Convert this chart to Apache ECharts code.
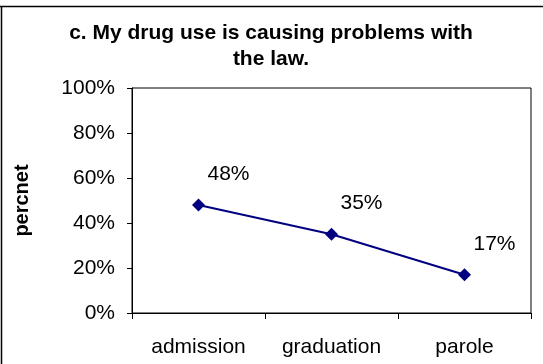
<!DOCTYPE html>
<html><head><meta charset="utf-8">
<script src="https://cdn.jsdelivr.net/npm/echarts@6/dist/echarts.min.js"></script>
<style>html,body{margin:0;padding:0;background:#fff}#c{width:543px;height:364px}</style>
</head><body><div id="c"></div>
<script>
const categories = ['admission', 'graduation', 'parole'];
const values = [48, 35, 17];
const yTicks = [0, 20, 40, 60, 80, 100];

const chart = echarts.init(document.getElementById('c'));
const F = 'Liberation Sans, Arial, sans-serif';
chart.setOption({
  animation: false,
  backgroundColor: '#fff',
  title: {
    text: 'c. My drug use is causing problems with\nthe law.',
    left: 266, top: 15, textAlign: 'center',
    textStyle: { fontFamily: F, fontSize: 21, fontWeight: 'bold', color: '#000', lineHeight: 26 }
  },
  grid: { left: 132, right: 12, top: 88, bottom: 51, show: true, borderColor: '#000', borderWidth: 1, backgroundColor: 'transparent' },
  xAxis: {
    type: 'category', data: categories, boundaryGap: true,
    axisLine: { lineStyle: { color: '#000', width: 1 } },
    axisTick: { show: true, length: 6, lineStyle: { color: '#000' } },
    axisLabel: { fontFamily: F, fontSize: 21, color: '#000', margin: 24 }
  },
  yAxis: {
    type: 'value', min: 0, max: 100, interval: 20,
    name: 'percnet', nameLocation: 'middle', nameGap: 100, nameRotate: 90,
    nameTextStyle: { fontFamily: F, fontSize: 20, fontWeight: 'bold', color: '#000' },
    axisLine: { show: true, lineStyle: { color: '#000' } },
    axisTick: { show: true, length: 5, lineStyle: { color: '#000' } },
    splitLine: { show: false },
    axisLabel: { fontFamily: F, fontSize: 21, color: '#000', margin: 17, formatter: v => yTicks.includes(v) ? v + '%' : '' }
  },
  series: [{
    type: 'line', data: values,
    symbol: 'diamond', symbolSize: 13,
    lineStyle: { color: '#000080', width: 2 },
    itemStyle: { color: '#000080' },
    label: { show: true, position: 'top', offset: [30, -9], formatter: p => p.value + '%',
      fontFamily: F, fontSize: 21, color: '#000' }
  }],
  graphic: [
    { type: 'line', shape: { x1: 0, y1: 6.5, x2: 543, y2: 6.5 }, style: { stroke: '#000', lineWidth: 1.5 }, silent: true, z: 100 },
    { type: 'line', shape: { x1: 1.5, y1: 6, x2: 1.5, y2: 364 }, style: { stroke: '#000', lineWidth: 1.5 }, silent: true, z: 100 }
  ]
});
</script></body></html>
